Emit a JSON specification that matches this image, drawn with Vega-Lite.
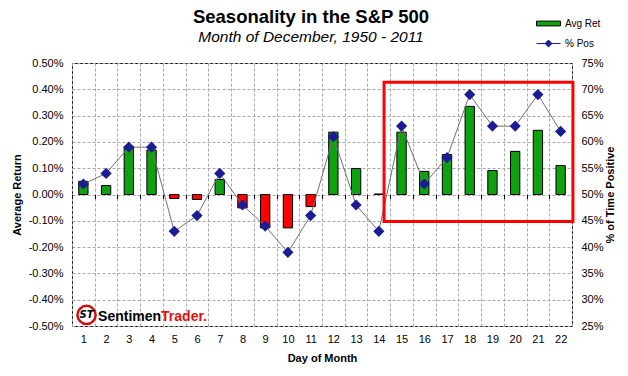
{
  "$schema": "https://vega.github.io/schema/vega-lite/v6.json",
  "width": 500,
  "height": 263,
  "autosize": {"type": "none"},
  "padding": {"left": 72, "top": 63, "right": 56, "bottom": 50},
  "background": "white",
  "config": {
    "font": "Liberation Sans",
    "view": {"stroke": "black", "strokeWidth": 1},
    "axis": {
      "labelFont": "Liberation Sans", "labelFontSize": 11, "labelColor": "black",
      "titleFont": "Liberation Sans", "titleFontSize": 11, "titleFontWeight": "bold", "titleColor": "black",
      "gridColor": "#A8A8A8", "gridDash": [3, 2], "gridWidth": 1,
      "ticks": false, "domain": false, "labelOverlap": false
    }
  },
  "title": {
    "text": "Seasonality in the S&P 500",
    "subtitle": "Month of December, 1950 - 2011",
    "font": "Liberation Sans", "fontSize": 18.5, "fontWeight": "bold", "color": "black",
    "subtitleFont": "Liberation Sans", "subtitleFontSize": 15.5, "subtitleFontStyle": "italic", "subtitleColor": "black",
    "subtitlePadding": 3, "anchor": "middle", "frame": "group", "dx": -11, "offset": -34
  },
  "datasets": {
    "days": [
      {"day": 1, "ret": 0.0005, "pos": 0.52},
      {"day": 2, "ret": 0.00034, "pos": 0.54},
      {"day": 3, "ret": 0.00183, "pos": 0.59},
      {"day": 4, "ret": 0.00169, "pos": 0.59},
      {"day": 5, "ret": -0.00015, "pos": 0.43},
      {"day": 6, "ret": -0.00019, "pos": 0.46},
      {"day": 7, "ret": 0.00057, "pos": 0.54},
      {"day": 8, "ret": -0.00051, "pos": 0.48},
      {"day": 9, "ret": -0.00127, "pos": 0.44},
      {"day": 10, "ret": -0.00127, "pos": 0.39},
      {"day": 11, "ret": -0.00046, "pos": 0.46},
      {"day": 12, "ret": 0.00237, "pos": 0.61},
      {"day": 13, "ret": 0.00099, "pos": 0.48},
      {"day": 14, "ret": 0.00002, "pos": 0.43},
      {"day": 15, "ret": 0.00237, "pos": 0.63},
      {"day": 16, "ret": 0.00088, "pos": 0.52},
      {"day": 17, "ret": 0.00152, "pos": 0.57},
      {"day": 18, "ret": 0.00335, "pos": 0.69},
      {"day": 19, "ret": 0.00091, "pos": 0.63},
      {"day": 20, "ret": 0.00164, "pos": 0.63},
      {"day": 21, "ret": 0.00244, "pos": 0.69},
      {"day": 22, "ret": 0.0011, "pos": 0.62}
    ],
    "box": [{"x0": 14.23, "x1": 22.54, "y0": 0.00427, "y1": -0.00103}],
    "logo": [
      {"part": "ring", "x": 1.14, "y": -0.00458, "label": ""},
      {"part": "mono", "x": 1.14, "y": -0.00458, "label": "ST"},
      {"part": "word1", "x": 4.42, "y": -0.00481, "label": "Sentimen"},
      {"part": "word2", "x": 4.42, "y": -0.00481, "label": "Trader."}
    ]
  },
  "layer": [
    {
      "data": {"name": "days"},
      "encoding": {
        "x": {
          "field": "day", "type": "ordinal",
          "scale": {"type": "band", "paddingInner": 0, "paddingOuter": 0},
          "axis": {"title": "Day of Month", "labelAngle": 0, "grid": true, "tickBand": "extent", "labelPadding": 7, "titlePadding": 8}
        }
      },
      "layer": [
        {
          "mark": {"type": "bar", "width": {"band": 0.41}, "stroke": "black", "strokeWidth": 1},
          "encoding": {
            "y": {
              "field": "ret", "type": "quantitative",
              "scale": {"domain": [-0.005, 0.005], "nice": false, "zero": false},
              "axis": {
                "title": "Average Return",
                "values": [-0.005, -0.004, -0.003, -0.002, -0.001, 0, 0.001, 0.002, 0.003, 0.004, 0.005],
                "tickCount": 11,
                "format": ".2%", "labelExpr": "replace(datum.label, '−', '-')",
                "labelOverlap": false, "labelBound": false, "labelFlush": false,
                "grid": true, "labelPadding": 9, "titlePadding": 6
              }
            },
            "fill": {
              "datum": "Avg Ret",
              "condition": {"test": "datum.ret < 0", "value": "#FF0000"},
              "scale": {"range": ["#10A010"]},
              "legend": {
                "orient": "none", "legendX": 464, "legendY": -52, "title": null,
                "symbolType": "M-1,-0.2H1V0.2H-1Z", "symbolSize": 576,
                "symbolStrokeColor": "black", "symbolStrokeWidth": 1,
                "labelFont": "Liberation Sans", "labelFontSize": 10, "labelColor": "black", "labelOffset": 4, "padding": 0
              }
            }
          }
        },
        {
          "mark": {"type": "rule", "color": "black", "strokeWidth": 1},
          "encoding": {"y": {"datum": 0}}
        }
      ]
    },
    {
      "data": {"name": "days"},
      "encoding": {
        "x": {
          "field": "day", "type": "ordinal",
          "scale": {"type": "band", "paddingInner": 0, "paddingOuter": 0},
          "axis": {"orient": "bottom", "offset": -131.5, "labels": false, "ticks": true, "tickBand": "extent", "tickSize": 4, "tickColor": "black", "domain": false, "grid": false, "title": null}
        },
        "y": {
          "field": "pos", "type": "quantitative",
          "scale": {"domain": [0.25, 0.75], "nice": false, "zero": false},
          "axis": {
            "orient": "right", "title": "% of Time Positive", "titleAngle": 270,
            "values": [0.25, 0.3, 0.35, 0.4, 0.45, 0.5, 0.55, 0.6, 0.65, 0.7, 0.75],
            "tickCount": 11,
            "format": ".0%", "grid": false, "labelPadding": 9, "titlePadding": 12,
            "labelOverlap": false
          }
        }
      },
      "layer": [
        {"mark": {"type": "line", "color": "#707070", "strokeWidth": 1}},
        {
          "mark": {"type": "point", "shape": "diamond", "filled": true, "fill": "#1C1C94", "size": 70, "opacity": 1},
          "encoding": {
            "stroke": {
              "datum": "% Pos",
              "scale": {"range": ["#1C1C94"]},
              "legend": {
                "orient": "none", "legendX": 464, "legendY": -32, "title": null,
                "symbolType": "M-1,0H1M0,-0.29L0.29,0L0,0.29L-0.29,0Z", "symbolSize": 576,
                "symbolFillColor": "#1C1C94", "symbolStrokeWidth": 1,
                "labelFont": "Liberation Sans", "labelFontSize": 10, "labelColor": "black", "labelOffset": 4, "padding": 0
              }
            }
          }
        }
      ]
    },
    {
      "data": {"name": "box"},
      "mark": {"type": "rect", "filled": false, "color": "#FF0000", "strokeWidth": 3},
      "encoding": {
        "x": {"field": "x0", "type": "quantitative", "scale": {"domain": [0.5, 22.5], "nice": false, "zero": false}, "axis": null},
        "x2": {"field": "x1"},
        "y": {"field": "y0", "type": "quantitative", "scale": {"domain": [-0.005, 0.005], "nice": false, "zero": false}, "axis": null},
        "y2": {"field": "y1"}
      }
    },
    {
      "data": {"name": "logo"},
      "encoding": {
        "x": {"field": "x", "type": "quantitative", "scale": {"domain": [0.5, 22.5], "nice": false, "zero": false}, "axis": null},
        "y": {"field": "y", "type": "quantitative", "scale": {"domain": [-0.005, 0.005], "nice": false, "zero": false}, "axis": null}
      },
      "layer": [
        {
          "transform": [{"filter": "datum.part == 'ring'"}],
          "mark": {"type": "point", "shape": "circle", "size": 330, "filled": false, "stroke": "#D01010", "strokeWidth": 2.5, "fill": "white", "fillOpacity": 1, "opacity": 1}
        },
        {
          "transform": [{"filter": "datum.part == 'mono'"}],
          "mark": {"type": "text", "font": "DejaVu Sans", "fontSize": 10, "fontWeight": "bold", "fontStyle": "italic", "color": "black", "align": "center", "baseline": "middle"},
          "encoding": {"text": {"field": "label"}}
        },
        {
          "transform": [{"filter": "datum.part == 'word1'"}],
          "mark": {"type": "text", "font": "Liberation Sans", "fontSize": 14, "fontWeight": "bold", "color": "black", "align": "right", "baseline": "alphabetic"},
          "encoding": {"text": {"field": "label"}}
        },
        {
          "transform": [{"filter": "datum.part == 'word2'"}],
          "mark": {"type": "text", "font": "Liberation Sans", "fontSize": 14, "fontWeight": "bold", "color": "#E01010", "align": "left", "baseline": "alphabetic"},
          "encoding": {"text": {"field": "label"}}
        }
      ]
    }
  ],
  "resolve": {"scale": {"x": "independent", "y": "independent"}}
}
